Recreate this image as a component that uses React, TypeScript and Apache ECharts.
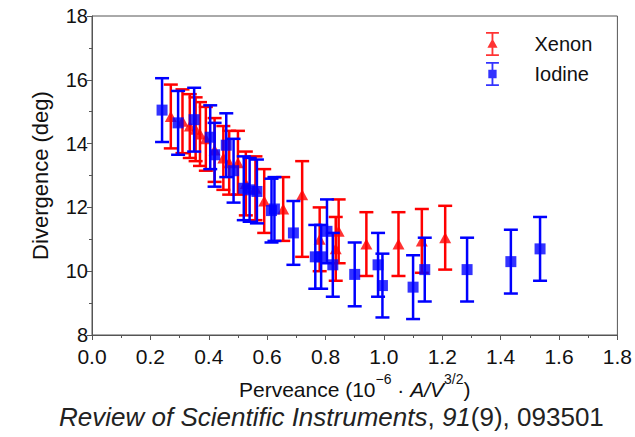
import React, { useEffect, useRef } from "react";
import * as echarts from "echarts";

// Xenon (red triangles)
const xenonX = [0.27, 0.31, 0.335, 0.355, 0.37, 0.39, 0.42, 0.45, 0.47, 0.5, 0.527, 0.56, 0.59, 0.655, 0.72, 0.78, 0.835, 0.845, 0.94, 1.05, 1.13, 1.21];
const xenonY = [14.85, 14.7, 14.55, 14.45, 14.3, 14.15, 13.8, 13.55, 13.4, 13.4, 12.75, 12.6, 12.2, 11.95, 12.4, 11.0, 10.7, 11.25, 10.85, 10.85, 10.95, 11.05];
const xenonLow = [13.85, 13.7, 13.55, 13.45, 13.3, 13.15, 12.8, 12.55, 12.4, 12.4, 11.75, 11.6, 11.2, 10.95, 10.45, 10.0, 9.7, 10.25, 9.85, 9.85, 9.95, 10.05];
const xenonHigh = [15.85, 15.7, 15.55, 15.45, 15.3, 15.15, 14.8, 14.55, 14.4, 14.4, 13.75, 13.6, 13.2, 12.95, 13.45, 12.0, 11.7, 12.25, 11.85, 11.85, 11.95, 12.05];

// Iodine (blue squares)
const iodineX = [0.24, 0.295, 0.35, 0.405, 0.42, 0.46, 0.485, 0.52, 0.54, 0.565, 0.615, 0.625, 0.69, 0.765, 0.785, 0.805, 0.825, 0.9, 0.98, 0.995, 1.1, 1.14, 1.285, 1.435, 1.535];
const iodineY = [15.05, 14.65, 14.75, 14.2, 13.65, 13.95, 13.15, 12.6, 12.55, 12.5, 11.9, 11.95, 11.2, 10.45, 10.45, 11.25, 10.2, 9.9, 10.2, 9.55, 9.5, 10.05, 10.05, 10.3, 10.7];
const iodineLow = [14.05, 13.65, 13.75, 13.2, 12.65, 12.95, 12.15, 11.6, 11.55, 11.5, 10.9, 10.95, 10.2, 9.45, 9.45, 10.25, 9.2, 8.9, 9.2, 8.55, 8.5, 9.05, 9.05, 9.3, 9.7];
const iodineHigh = [16.05, 15.65, 15.75, 15.2, 14.65, 14.95, 14.15, 13.6, 13.55, 13.5, 12.9, 12.95, 12.2, 11.45, 11.45, 12.25, 11.2, 10.9, 11.2, 10.55, 10.5, 11.05, 11.05, 11.3, 11.7];

const seriesNames = ["Xenon", "Iodine"];
const seriesColors = ["#ff0000", "#0000ff"];
const xTicks = { min: 0, max: 1.8, interval: 0.2 };
const yTicks = { min: 8, max: 18, interval: 2 };

const FONT = "'Liberation Sans', Arial, Helvetica, sans-serif";

const triIcon = "path://M0,0H14V2H0Z M6,0H8V26H6Z M0,24H14V26H0Z M7,7L12.5,17L1.5,17Z";
const sqIcon = "path://M0,0H14V2H0Z M6,0H8V26H6Z M0,24H14V26H0Z M2.5,8.5H11.5V17.5H2.5Z";

function errRender(color: string) {
  return (params: any, api: any) => {
    const x = api.value(0);
    const lo = api.value(1);
    const hi = api.value(2);
    const pHi = api.coord([x, hi]);
    const pLo = api.coord([x, lo]);
    const hw = 7;
    const style = { stroke: color, lineWidth: 2.5, fill: "none" };
    return {
      type: "group",
      children: [
        { type: "line", shape: { x1: pHi[0], y1: pHi[1], x2: pLo[0], y2: pLo[1] }, style },
        { type: "line", shape: { x1: pHi[0] - hw, y1: pHi[1], x2: pHi[0] + hw, y2: pHi[1] }, style },
        { type: "line", shape: { x1: pLo[0] - hw, y1: pLo[1], x2: pLo[0] + hw, y2: pLo[1] }, style },
      ],
    };
  };
}

export default function App() {
  const ref = useRef<HTMLDivElement>(null);
  useEffect(() => {
    if (!ref.current) return;
    const chart = echarts.init(ref.current, undefined, { renderer: "svg" });
    const xeErr = xenonX.map((x, i) => [x, xenonLow[i], xenonHigh[i]]);
    const ioErr = iodineX.map((x, i) => [x, iodineLow[i], iodineHigh[i]]);
    const xePts = xenonX.map((x, i) => [x, xenonY[i]]);
    const ioPts = iodineX.map((x, i) => [x, iodineY[i]]);
    const axisColor = "#555";
    chart.setOption({
      animation: false,
      textStyle: { fontFamily: FONT },
      title: {
        text: "{i|Review of Scientific Instruments}{n|, }{i|91}{n|(9), 093501}",
        left: 59,
        top: 404,
        padding: 0,
        textStyle: {
          fontWeight: "normal",
          rich: {
            i: { fontSize: 26, fontStyle: "italic", fontWeight: "normal", color: "#222", fontFamily: FONT },
            n: { fontSize: 26, fontWeight: "normal", color: "#222", fontFamily: FONT },
          },
        },
      },
      legend: {
        orient: "vertical",
        left: 486,
        top: 32,
        padding: 0,
        itemWidth: 14,
        itemHeight: 24,
        itemGap: 6,
        textStyle: { fontSize: 20, color: "#111", fontFamily: FONT, padding: [0, 0, 0, 30] },
        data: [
          { name: seriesNames[0], icon: triIcon },
          { name: seriesNames[1], icon: sqIcon },
        ],
      },
      grid: {
        left: 92,
        right: 15,
        top: 16,
        bottom: 102,
        show: true,
        borderColor: axisColor,
        borderWidth: 1,
      },
      xAxis: {
        type: "value",
        min: xTicks.min,
        max: xTicks.max,
        interval: xTicks.interval,
        name: "{a|Perveance (10}{s|−6}{a| · }{i|A/V}{s|3/2}{a|)}",
        nameLocation: "middle",
        nameGap: 26,
        nameTextStyle: {
          rich: {
            a: { fontSize: 21, color: "#111", fontFamily: FONT, verticalAlign: "bottom", lineHeight: 22 },
            i: { fontSize: 21, fontStyle: "italic", color: "#111", fontFamily: FONT, verticalAlign: "bottom", lineHeight: 22 },
            s: { fontSize: 14, color: "#111", fontFamily: FONT, verticalAlign: "bottom", lineHeight: 14, padding: [0, 0, 14, 0] },
          },
        },
        axisLine: { show: true, lineStyle: { color: axisColor, width: 1 } },
        axisTick: { show: true, length: 5, lineStyle: { color: axisColor } },
        minorTick: { show: true, splitNumber: 2, length: 3, lineStyle: { color: axisColor } },
        splitLine: { show: false },
        axisLabel: {
          fontSize: 21,
          color: "#111",
          margin: 14,
          lineHeight: 15,
          fontFamily: FONT,
          formatter: (v: number) => v.toFixed(1),
        },
      },
      yAxis: {
        type: "value",
        min: yTicks.min,
        max: yTicks.max,
        interval: yTicks.interval,
        name: "Divergence (deg)",
        nameLocation: "middle",
        nameGap: 41,
        nameTextStyle: { fontSize: 22, color: "#111", fontFamily: FONT },
        axisLine: { show: true, lineStyle: { color: axisColor, width: 1 } },
        axisTick: { show: true, length: 5, lineStyle: { color: axisColor } },
        minorTick: { show: true, splitNumber: 2, length: 3, lineStyle: { color: axisColor } },
        splitLine: { show: false },
        axisLabel: { fontSize: 20, color: "#111", margin: 4, lineHeight: 14, fontFamily: FONT },
      },
      series: [
        {
          name: seriesNames[0] + " error",
          type: "custom",
          renderItem: errRender(seriesColors[0]),
          data: xeErr,
          encode: { x: 0, y: [1, 2] },
          z: 2,
        },
        {
          name: seriesNames[0],
          type: "scatter",
          symbol: "triangle",
          symbolSize: [12, 11],
          itemStyle: { color: seriesColors[0] },
          data: xePts,
          z: 3,
        },
        {
          name: seriesNames[1] + " error",
          type: "custom",
          renderItem: errRender(seriesColors[1]),
          data: ioErr,
          encode: { x: 0, y: [1, 2] },
          z: 4,
        },
        {
          name: seriesNames[1],
          type: "scatter",
          symbol: "rect",
          symbolSize: 11,
          itemStyle: { color: seriesColors[1] },
          data: ioPts,
          z: 5,
        },
      ],
    });
    return () => chart.dispose();
  }, []);
  return <div ref={ref} style={{ width: 635, height: 437, position: "absolute", left: 0, top: 0 }} />;
}
